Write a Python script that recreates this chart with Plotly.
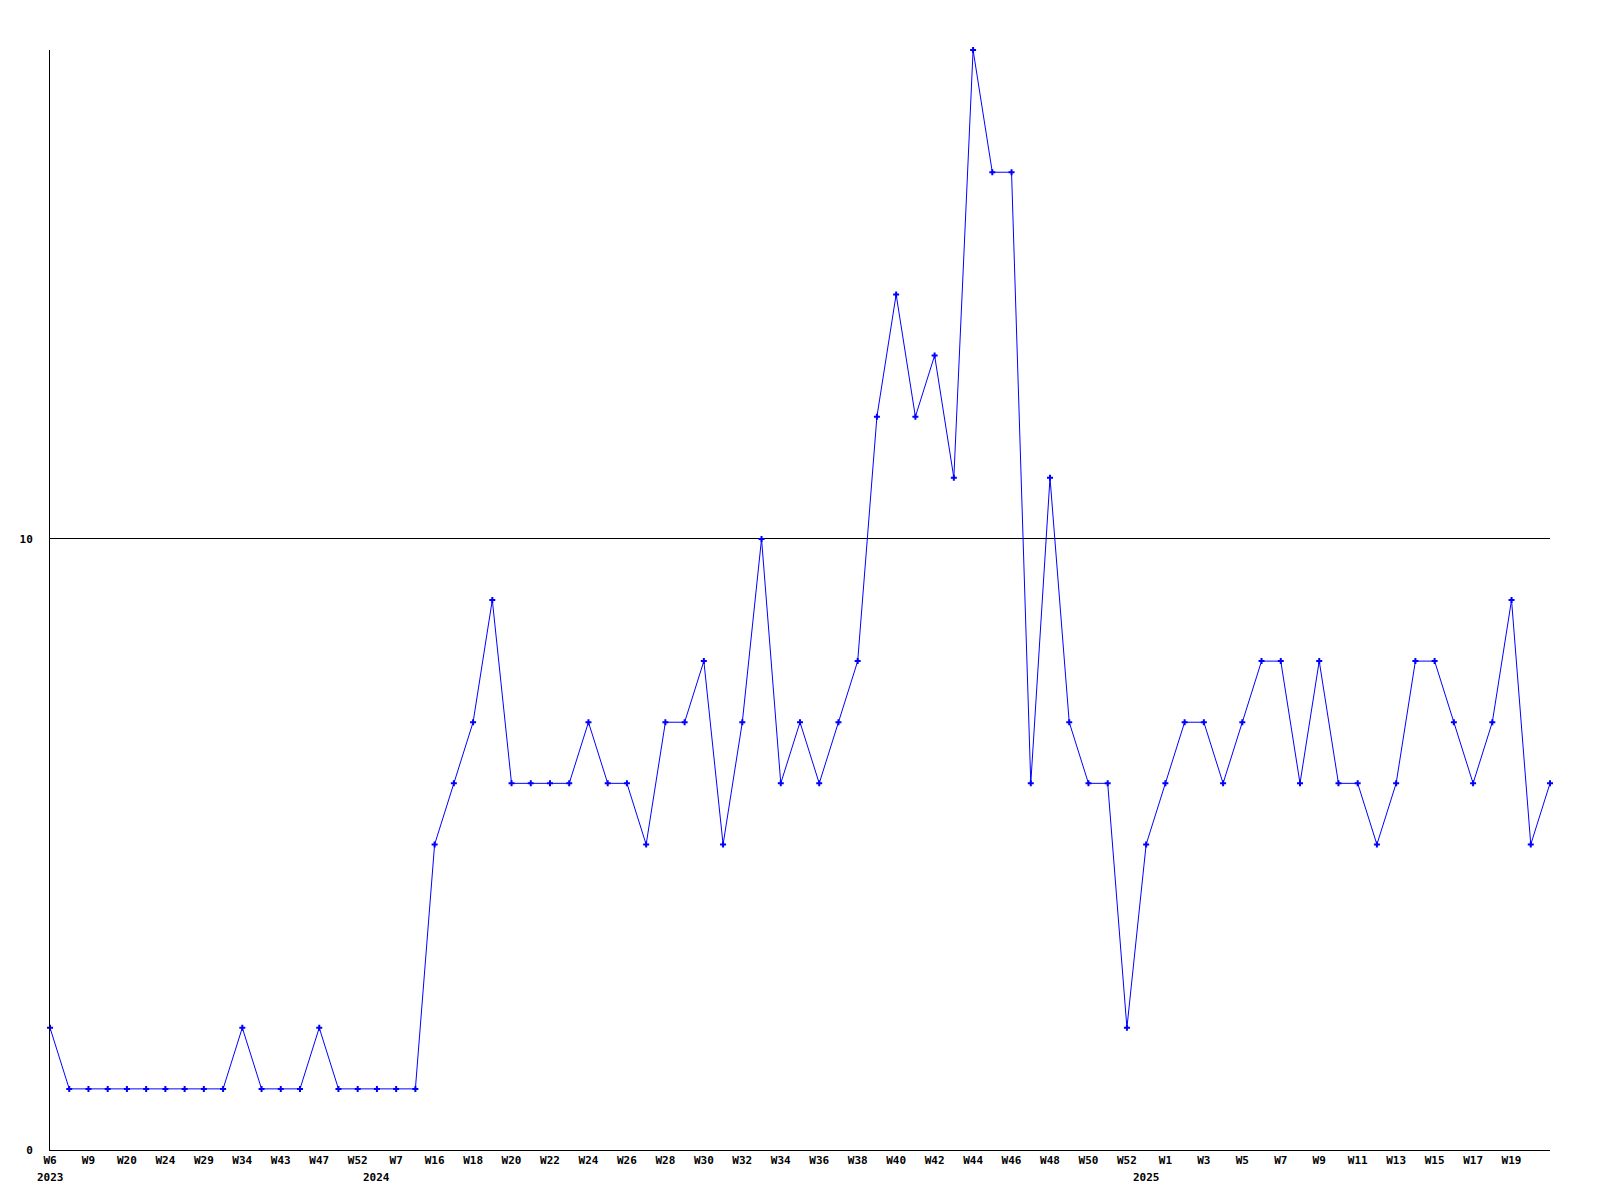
import plotly.graph_objects as go

# Week labels (year, week) for each data point
years = ([2023] * 17 + [2024] * 40 + [2025] * 22)
weeks = [
    "W6", "W8", "W9", "W14", "W20", "W22", "W24", "W27", "W29", "W31",
    "W34", "W38", "W43", "W45", "W47", "W50", "W52",
    "W3", "W7", "W11", "W16", "W17", "W18", "W19", "W20", "W21", "W22", "W23",
    "W24", "W25", "W26", "W27", "W28", "W29", "W30", "W31", "W32", "W33",
    "W34", "W35", "W36", "W37", "W38", "W39", "W40", "W41", "W42", "W43",
    "W44", "W45", "W46", "W47", "W48", "W49", "W50", "W51", "W52", "W0",
    "W1", "W2", "W3", "W4", "W5", "W6", "W7", "W8", "W9", "W10", "W11",
    "W12", "W13", "W14", "W15", "W16", "W17", "W18", "W19", "W20", "W21",
]
values = [
    2, 1, 1, 1, 1, 1, 1, 1, 1, 1,
    2, 1, 1, 1, 2, 1, 1, 1, 1, 1,
    5, 6, 7, 9, 6, 6, 6, 6, 7, 6,
    6, 5, 7, 7, 8, 5, 7, 10, 6, 7,
    6, 7, 8, 12, 14, 12, 13, 11, 18, 16,
    16, 6, 11, 7, 6, 6, 2, 5, 6, 7,
    7, 6, 7, 8, 8, 6, 8, 6, 6, 5,
    6, 8, 8, 7, 6, 7, 9, 5, 6,
]

cats = [f"{y}-{w}" for y, w in zip(years, weeks)]

# week ticks on every second point (last point unlabeled)
tickvals = [cats[i] for i in range(0, len(cats) - 1, 2)]
ticktext = [weeks[i] for i in range(0, len(cats) - 1, 2)]

fig = go.Figure(
    go.Scatter(
        x=cats,
        y=values,
        mode="lines+markers",
        line=dict(color="#0000ff", width=1),
        marker=dict(symbol="cross", size=5, color="#0000ff", line=dict(width=0)),
        cliponaxis=False,
    )
)

tickfont = dict(family="DejaVu Sans Mono", size=11, color="black", weight="bold")

# year labels at the first point of each year
prev = None
for c, y in zip(cats, years):
    if y != prev:
        fig.add_annotation(
            x=c, y=0, xref="x", yref="paper",
            text=str(y), showarrow=False,
            yanchor="top", xanchor="center", yshift=-19,
            font=tickfont,
        )
        prev = y

fig.update_layout(
    width=1600,
    height=1200,
    margin=dict(l=42, r=58, t=42, b=58),
    paper_bgcolor="white",
    plot_bgcolor="white",
    showlegend=False,
    xaxis=dict(
        type="category",
        range=[0, len(cats) - 1],
        tickmode="array",
        tickvals=tickvals,
        ticktext=ticktext,
        tickangle=0,
        showgrid=False,
        showline=True,
        linecolor="black",
        linewidth=1,
        ticks="",
        tickfont=tickfont,
        zeroline=False,
        automargin=False,
    ),
    yaxis=dict(
        range=[0, 18],
        tickmode="array",
        tickvals=[0, 10],
        ticktext=["0", "10"],
        showgrid=True,
        gridcolor="black",
        gridwidth=1,
        showline=True,
        linecolor="black",
        linewidth=1,
        zeroline=False,
        ticks="",
        ticklabelstandoff=14,
        tickfont=tickfont,
        automargin=False,
    ),
)

fig.write_html("out.html")
